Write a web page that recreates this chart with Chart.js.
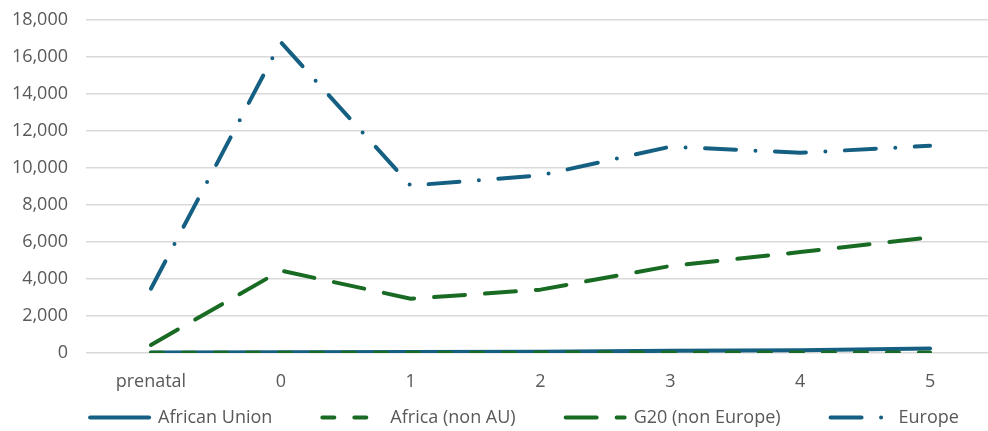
<!DOCTYPE html>
<html>
<head>
<meta charset="utf-8">
<script src="https://cdn.jsdelivr.net/npm/chart.js@4"></script>
<style>
  html, body { margin: 0; padding: 0; background: #fff; overflow: hidden; }
  #wrap { width: 1000px; height: 431px; }
</style>
</head>
<body>
<div id="wrap"><canvas id="chart" width="1000" height="431"></canvas></div>
<script>
// categories and series
const categories = ["prenatal", "0", "1", "2", "3", "4", "5"];
const africanUnion = [20, 40, 50, 60, 110, 150, 240];
const africaNonAU = [5, 10, 10, 15, 15, 20, 25];
const g20NonEurope = [430, 4450, 2930, 3420, 4700, 5450, 6240];
const europe = [3470, 16800, 9050, 9600, 11150, 10820, 11200];
const yTicks = [0, 2000, 4000, 6000, 8000, 10000, 12000, 14000, 16000, 18000];

const BLUE = "#156082";
const GREEN = "#196B24";
const TEXT = "#595959";
const FONT = "'Open Sans', sans-serif";
const LEGEND_LIFT = 52;
const LEGEND_SHIFT = 27;

function line(label, data, color, dash, order) {
  return {
    label: label,
    data: data,
    borderColor: color,
    backgroundColor: color,
    borderWidth: 4,
    borderDash: dash,
    borderCapStyle: "round",
    borderJoinStyle: "round",
    pointRadius: 0,
    pointHoverRadius: 0,
    tension: 0,
    order: order,
  };
}

// legend needs wide gaps between items but little height, so move it after layout
const moveLegend = {
  id: "moveLegend",
  afterLayout(chart) {
    const lg = chart.legend;
    lg.top -= LEGEND_LIFT;
    lg.bottom -= LEGEND_LIFT;
    lg.left += LEGEND_SHIFT;
    lg.right += LEGEND_SHIFT;
  },
};

new Chart(document.getElementById("chart"), {
  type: "line",
  data: {
    labels: categories,
    datasets: [
      line("African Union", africanUnion, BLUE, [], 1),
      line("Africa (non AU)", africaNonAU, GREEN, [12, 20], 0),
      line("G20 (non Europe)", g20NonEurope, GREEN, [31, 20], 2),
      line("Europe", europe, BLUE, [31, 19.5, 0, 19.5], 3),
    ],
  },
  plugins: [moveLegend],
  options: {
    responsive: false,
    animation: false,
    devicePixelRatio: 1,
    layout: { padding: { left: 0, right: 5, top: 20, bottom: -57.5 } },
    plugins: {
      tooltip: { enabled: false },
      legend: {
        position: "bottom",
        labels: {
          sort: (a, b) => a.datasetIndex - b.datasetIndex,
          usePointStyle: true,
          pointStyle: "line",
          pointStyleWidth: 59,
          boxHeight: 16,
          padding: 50,
          color: TEXT,
          font: { family: FONT, size: 18 },
          generateLabels: (chart) => {
            const items = Chart.defaults.plugins.legend.labels.generateLabels(chart);
            items.forEach((it) => {
              const ds = chart.data.datasets[it.datasetIndex];
              it.lineDash = ds.borderDash;
              it.lineCap = "round";
              it.lineWidth = 4;
              it.strokeStyle = ds.borderColor;
              it.pointStyle = "line";
            });
            return items;
          },
        },
      },
    },
    scales: {
      x: {
        offset: true,
        grid: { display: false, drawTicks: false },
        border: { display: false },
        ticks: { color: TEXT, font: { family: FONT, size: 18 }, padding: 18 },
      },
      y: {
        min: 0,
        max: 18000,
        afterFit: (s) => { s.width = 86; s.paddingTop = 0; s.paddingBottom = 0; },
        afterBuildTicks: (s) => { s.ticks = yTicks.map((v) => ({ value: v })); },
        grid: { color: "#d9d9d9", lineWidth: 1.5, drawTicks: false },
        border: { display: false },
        ticks: {
          color: TEXT,
          font: { family: FONT, size: 18 },
          padding: 18,
          callback: (v) => v.toLocaleString("en-US"),
        },
      },
    },
  },
});
</script>
</body>
</html>
